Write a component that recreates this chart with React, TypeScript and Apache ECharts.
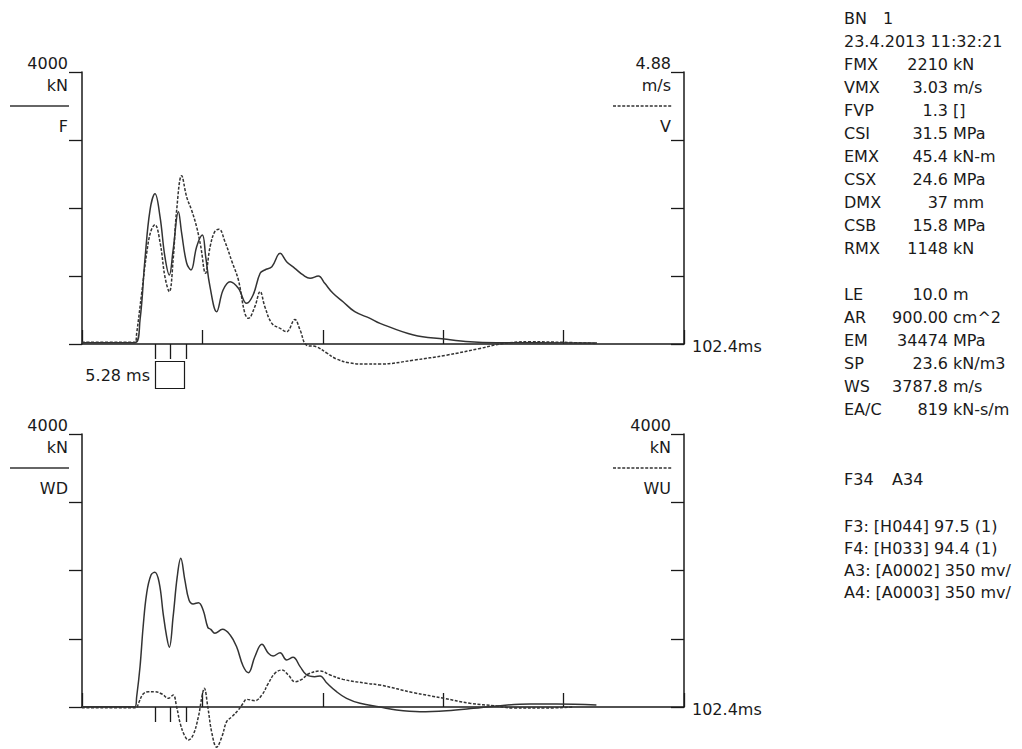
import React, { useEffect, useRef } from "react";
import * as echarts from "echarts";

// ---------- axis scales ----------
const timeMax = 102.4; // ms
const timeTick = 20.48;
const forceMax = 4000; // kN
const forceTick = 1000;
const velMax = 4.88; // m/s
const velTick = 1.22;
const markerTimes = [12.42, 15.06, 17.7]; // ms, marks below time axis

// ---------- top chart: F (kN) ----------
const fTime = [0, 9.0, 9.87, 10.7, 11.57, 12.42, 13.27, 14.1, 14.85, 15.5, 16.4, 16.95, 17.8, 18.54, 19.5, 20.47, 21.04, 21.77, 22.9, 24.0, 25.2, 26.6, 28.0, 29.1, 30.3, 31.1, 32.3, 33.7, 34.8, 36.2, 37.6, 38.8, 40.2, 41.3, 42.7, 44.4, 46.4, 49.0, 50.7, 56.4, 61.6, 66.0, 70.5, 87.6];
const fValues = [20, 20, 353, 1235, 1970, 2210, 1873, 1284, 1015, 1382, 1946, 1632, 1191, 1088, 1431, 1603, 1284, 843, 475, 794, 916, 819, 598, 720, 1040, 1088, 1137, 1333, 1211, 1113, 1015, 966, 1000, 892, 745, 622, 475, 377, 304, 132, 74, 34, 20, 15];

// ---------- top chart: V (m/s) ----------
const vTime = [0, 9.0, 9.3, 10.15, 11.0, 11.7, 12.4, 13.3, 14.1, 14.85, 15.5, 16.1, 16.95, 17.8, 18.65, 19.5, 20.2, 21.0, 21.8, 22.6, 23.3, 24.3, 25.5, 26.6, 27.7, 28.3, 29.4, 30.3, 31.1, 32.3, 33.7, 34.8, 36.2, 37.1, 38.2, 39.9, 41.6, 43.3, 45.6, 48.4, 50.7, 56.4, 62.0, 67.7, 71.7, 76.2, 81.9, 87.5];
const vValues = [0.03, 0.03, 0.19, 0.91, 1.63, 2.02, 2.14, 1.81, 1.21, 0.94, 1.51, 2.4, 3.02, 2.64, 2.4, 2.1, 1.75, 1.27, 1.75, 2.02, 2.06, 1.84, 1.48, 1.15, 0.55, 0.46, 0.67, 0.94, 0.67, 0.37, 0.28, 0.22, 0.44, 0.25, -0.02, -0.05, -0.16, -0.27, -0.34, -0.36, -0.36, -0.29, -0.2, -0.08, 0.01, 0.04, 0.03, 0.01];

// ---------- bottom chart: WD (kN) ----------
const wdTime = [0, 9.0, 9.3, 9.87, 10.4, 11.0, 11.74, 12.4, 13.15, 13.8, 14.4, 14.85, 15.5, 16.2, 16.8, 17.5, 18.2, 18.9, 19.8, 20.6, 21.4, 21.9, 22.6, 23.9, 25.2, 26.3, 27.4, 28.3, 29.4, 30.6, 31.7, 32.5, 33.7, 34.8, 35.9, 37.1, 38.2, 39.6, 40.5, 41.6, 43.3, 45.0, 47.3, 50.7, 53.5, 57.5, 62.0, 66.6, 70.5, 76.2, 80.7, 87.5];
const wdValues = [5, 5, 150, 590, 1176, 1666, 1934, 1973, 1812, 1373, 1030, 875, 1323, 1909, 2178, 1860, 1567, 1509, 1528, 1421, 1167, 1138, 1080, 1138, 1055, 883, 600, 503, 737, 918, 787, 747, 796, 689, 728, 591, 469, 444, 454, 356, 224, 127, 54, 0, -44, -68, -54, -20, 15, 44, 44, 29];

// ---------- bottom chart: WU (kN) ----------
const wuTime = [0, 9.2, 9.6, 10.4, 11.3, 12.4, 13.6, 14.7, 15.5, 16.1, 16.7, 17.4, 18.1, 18.9, 19.8, 20.4, 20.8, 21.4, 22.1, 22.9, 23.8, 24.6, 25.5, 26.6, 27.4, 28.0, 29.4, 30.6, 31.7, 32.8, 34.0, 35.1, 36.2, 37.4, 38.5, 40.5, 42.2, 44.4, 48.4, 50.7, 56.4, 61.6, 66.0, 70.5, 73.3, 79.0, 83.5];
const wuValues = [-10, -10, 54, 190, 224, 224, 190, 127, 176, 0, -239, -410, -483, -410, -142, 151, 274, 0, -385, -588, -435, -215, -142, -44, 54, 112, 93, 176, 347, 493, 542, 469, 371, 405, 483, 527, 469, 405, 347, 322, 210, 127, 54, 15, -15, -15, 0];

// ---------- axis captions ----------
const topLeftCaption = ["4000", "kN", "F"];
const topRightCaption = ["4.88", "m/s", "V"];
const bottomLeftCaption = ["4000", "kN", "WD"];
const bottomRightCaption = ["4000", "kN", "WU"];
const timeEndLabel = "102.4ms";
const markerLabel = "5.28 ms";

// ---------- side panel ----------
const headerLines = ["BN", "23.4.2013 11:32:21"];
const headerValue = "1";
const resultLabels = ["FMX", "VMX", "FVP", "CSI", "EMX", "CSX", "DMX", "CSB", "RMX"];
const resultValues = ["2210", "3.03", "1.3", "31.5", "45.4", "24.6", "37", "15.8", "1148"];
const resultUnits = ["kN", "m/s", "[]", "MPa", "kN-m", "MPa", "mm", "MPa", "kN"];
const pileLabels = ["LE", "AR", "EM", "SP", "WS", "EA/C"];
const pileValues = ["10.0", "900.00", "34474", "23.6", "3787.8", "819"];
const pileUnits = ["m", "cm^2", "MPa", "kN/m3", "m/s", "kN-s/m"];
const channelNames = ["F34", "A34"];
const sensorLines = ["F3: [H044] 97.5 (1)", "F4: [H033] 94.4 (1)", "A3: [A0002] 350 mv/", "A4: [A0003] 350 mv/"];

const zip = (t: number[], v: number[]) => t.map((x, i) => [x, v[i]]);

export default function App() {
  const ref = useRef<HTMLDivElement>(null);
  useEffect(() => {
    if (!ref.current) return;
    const chart = echarts.init(ref.current, null, { renderer: "svg" });
    const ink = "#1a1a1a";
    const lineInk = "#333333";
    const font = { fontFamily: "DejaVu Sans", fontSize: 16, fill: ink };
    const axisLine = { show: true, onZero: false, lineStyle: { color: ink, width: 1.5 } };
    const tickStyle = { color: ink, width: 1.3 };

    const G = [
      { left: 82, top: 72, width: 602, height: 272 },
      { left: 82, top: 434, width: 602, height: 273 },
    ];

    const mainX = (g: number) => ({
      type: "value", gridIndex: g, min: 0, max: timeMax, interval: timeTick, position: "bottom",
      axisLine, axisTick: { show: true, inside: true, length: 14, lineStyle: tickStyle },
      axisLabel: { show: false }, splitLine: { show: false },
    });
    const markerX = (g: number) => ({
      type: "value", gridIndex: g, min: 0, max: timeMax, position: "bottom",
      axisLine: { show: false, onZero: false },
      axisTick: { show: true, inside: false, length: 15, customValues: markerTimes, lineStyle: tickStyle },
      axisLabel: { show: false }, splitLine: { show: false },
    });
    const yAx = (g: number, pos: string, max: number, interval: number, inside: boolean) => ({
      type: "value", gridIndex: g, position: pos, min: 0, max, interval,
      axisLine, axisTick: { show: true, inside, length: 13, lineStyle: tickStyle },
      axisLabel: { show: false }, splitLine: { show: false },
    });
    const series = (xi: number, yi: number, data: number[][], dashed: boolean) => ({
      type: "line", xAxisIndex: xi, yAxisIndex: yi, data, showSymbol: false, smooth: 0.4,
      clip: false, silent: true,
      lineStyle: { color: lineInk, width: 1.5, type: dashed ? [3, 1.6] : "solid" },
    });

    const txt = (text: string, x: number, y: number, align = "left") => ({
      type: "text", x, y, silent: true,
      style: { text, ...font, align, verticalAlign: "middle" },
    });

    const graphics: any[] = [];
    const caption = (c: string[], xr: number, top: number, dashed: boolean) => {
      graphics.push(txt(c[0], xr, top - 9, "right"));
      graphics.push(txt(c[1], xr, top + 13, "right"));
      graphics.push({
        type: "line", silent: true,
        shape: { x1: dashed ? xr - 58 : 10, y1: top + 34, x2: xr + 1, y2: top + 34 },
        style: { stroke: lineInk, lineWidth: 1.4, lineDash: dashed ? [3, 1.6] : null },
      });
      graphics.push(txt(c[2], xr, top + 54, "right"));
    };
    caption(topLeftCaption, 68, G[0].top, false);
    caption(topRightCaption, 671, G[0].top, true);
    caption(bottomLeftCaption, 68, G[1].top, false);
    caption(bottomRightCaption, 671, G[1].top, true);
    graphics.push(txt(timeEndLabel, 692, G[0].top + G[0].height + 2));
    graphics.push(txt(timeEndLabel, 692, G[1].top + G[1].height + 2));
    graphics.push(txt(markerLabel, 150, 375, "right"));
    graphics.push({
      type: "rect", silent: true,
      shape: { x: 155.5, y: 361.5, width: 29, height: 27 },
      style: { fill: "none", stroke: ink, lineWidth: 1.2 },
    });

    const px = 844, numR = 948, unitL = 953, y0 = 18, step = 23.05;
    graphics.push(txt(headerLines[0], px, y0));
    graphics.push(txt(headerValue, 883, y0));
    graphics.push(txt(headerLines[1], px, y0 + step));
    resultLabels.forEach((l, i) => {
      const y = y0 + (i + 2) * step;
      graphics.push(txt(l, px, y));
      graphics.push(txt(resultValues[i], numR, y, "right"));
      graphics.push(txt(resultUnits[i], unitL, y));
    });
    pileLabels.forEach((l, i) => {
      const y = y0 + (i + 12) * step;
      graphics.push(txt(l, px, y));
      graphics.push(txt(pileValues[i], numR, y, "right"));
      graphics.push(txt(pileUnits[i], unitL, y));
    });
    graphics.push(txt(channelNames[0], px, 479));
    graphics.push(txt(channelNames[1], 892, 479));
    sensorLines.forEach((s, i) => graphics.push(txt(s, px, 526 + i * 22.3)));

    chart.setOption({
      animation: false,
      backgroundColor: "#ffffff",
      grid: G,
      xAxis: [mainX(0), markerX(0), mainX(1), markerX(1)],
      yAxis: [
        yAx(0, "left", forceMax, forceTick, false),
        yAx(0, "right", velMax, velTick, true),
        yAx(1, "left", forceMax, forceTick, false),
        yAx(1, "right", forceMax, forceTick, true),
      ],
      series: [
        series(0, 0, zip(fTime, fValues), false),
        series(0, 1, zip(vTime, vValues), true),
        series(2, 2, zip(wdTime, wdValues), false),
        series(2, 3, zip(wuTime, wuValues), true),
      ],
      graphic: graphics,
    });
    return () => chart.dispose();
  }, []);
  return (
    <div
      ref={ref}
      style={{ position: "fixed", left: 0, top: 0, width: 1022, height: 749, background: "#fff" }}
    />
  );
}
